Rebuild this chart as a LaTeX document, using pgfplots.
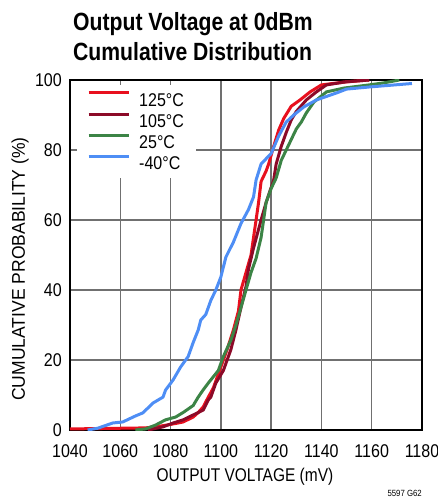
\documentclass[border=0pt]{standalone}
\usepackage{pgfplots}
\pgfplotsset{compat=1.18}
\usepackage{fontspec}
\setmainfont{Liberation Sans}[FakeStretch=0.87]
\newfontfamily\xlabfont{Liberation Sans}[FakeStretch=0.84]
\newfontfamily\ylabfont{Liberation Sans}[FakeStretch=0.95]
\newfontfamily\titlefont{Liberation Sans}[FakeStretch=0.85]
\definecolor{c125}{HTML}{E8101E}
\definecolor{c105}{HTML}{8C0A28}
\definecolor{c25}{HTML}{3C8446}
\definecolor{cm40}{HTML}{4E8EF5}
\definecolor{gridc}{HTML}{707070}
\begin{document}
\begin{tikzpicture}
\useasboundingbox (-70bp,-74bp) rectangle (368bp,430bp);
\begin{axis}[
  at={(0,0)}, anchor=south west,
  scale only axis, width=352bp, height=350bp,
  xmin=1040, xmax=1180, ymin=0, ymax=100,
  xtick={1040,1060,...,1180}, ytick={0,20,...,100},
  grid=major, major grid style={gridc, line width=1.3bp},
  axis line style={black, line width=2bp},
  major tick length=0pt, tick style={draw=none},
  /pgf/number format/assume math mode=true,
  /pgf/number format/1000 sep={},
  ticklabel style={font=\fontsize{18.5}{18.5}\selectfont},
  xticklabel style={anchor=base, yshift=-27bp},
  yticklabel style={anchor=east, inner sep=0pt, xshift=-8bp},
  xlabel={OUTPUT VOLTAGE (mV)},
  ylabel={CUMULATIVE PROBABILITY (\%)},
  xlabel style={font=\xlabfont\fontsize{18.5}{18.5}\selectfont, at={(axis description cs:0.497,-0.146)}, anchor=base},
  ylabel style={font=\ylabfont\fontsize{18.5}{18.5}\selectfont, at={(axis description cs:-0.128,0.46)}, anchor=base, rotate=0},
  legend style={at={(axis description cs:0.02,0.986)}, anchor=north west, draw=none, fill=white,
    inner xsep=10bp, inner ysep=5.7bp, font=\fontsize{18.5}{18.5}\selectfont,
    nodes={inner sep=2bp, text height=13.3bp, text depth=0pt}, row sep=4bp, column sep=7bp},
  legend cell align=left,
  legend image code/.code={\draw[#1, line width=3bp] (0bp,6.5bp) -- (40bp,6.5bp);},
  every axis plot/.append style={line width=3bp, line join=round},
]
\addplot[c125] coordinates {
(1040,0.3) (1050,0.4) (1060,0.5) (1070,0.6) (1075,1) (1080,1.6) (1083,2) (1085,2.3) (1089,3.7) (1091,5) (1093,6.6) (1095,9.4) (1097,12) (1098,14) (1100,18) (1102.5,23) (1105,28.6) (1107,34) (1108,40) (1110,45) (1112,50) (1113,55) (1114,60) (1115,65) (1116,71) (1118,74) (1119,76) (1121,81) (1123,85.7) (1125,89) (1128,92.5) (1131.5,94.3) (1135.5,96.6) (1140,98.6) (1149,99.4) (1159,100)};
\addlegendentry{125°C}
\addplot[c105] coordinates {
(1071,0) (1077,0.9) (1081,2) (1085,2.9) (1089,4.3) (1093,5.7) (1095,8.6) (1096,9.4) (1098,13.4) (1101,17) (1104,23) (1106,28.6) (1108,35) (1110,41) (1111,46) (1113,52) (1116,60) (1118,65) (1121,71.4) (1122,76) (1124,81) (1126,85) (1128,88.6) (1130,91) (1134,94.3) (1138,96.6) (1142,98.6) (1150,99.5) (1159,100)};
\addlegendentry{105°C}
\addplot[c25] coordinates {
(1066,0) (1070,0.3) (1074,1.4) (1078,2.9) (1082,3.7) (1085,5) (1089,7) (1091,9.4) (1093,11.5) (1095,13.4) (1099,17) (1101,21) (1104,25.7) (1106,30) (1108,35) (1110,40) (1112,45) (1114,49) (1116,55) (1117,60) (1118,65) (1120,69) (1122,72) (1124,77) (1126,80) (1128,83) (1130,86) (1132,88) (1134,90.6) (1137,93.7) (1142,96.6) (1149,97.7) (1159,98.6) (1165,99.2) (1171,100)};
\addlegendentry{25°C}
\addplot[cm40] coordinates {
(1047,0) (1051,0.5) (1057,2) (1061,2.3) (1066,4) (1069,4.9) (1071,6.3) (1073,7.7) (1077,9.4) (1078,11.4) (1081,14.3) (1084,18) (1087,21) (1089,25) (1091,28.6) (1092,31.4) (1094,33) (1096,37) (1098,40) (1100,43.7) (1102,49.4) (1105,53.7) (1108,59) (1111,63) (1113,66.6) (1114,71.4) (1116,76) (1120,79) (1123,84) (1126,88) (1129,90) (1133,92.3) (1138,94.3) (1146,96.3) (1150,97.4) (1159,98) (1176,99)};
\addlegendentry{-40°C}
\end{axis}
\node[anchor=base west, inner sep=0pt, font=\titlefont\bfseries\fontsize{25}{25}\selectfont] at (3bp,399bp) {Output Voltage at 0dBm};
\node[anchor=base west, inner sep=0pt, font=\titlefont\bfseries\fontsize{25}{25}\selectfont] at (3bp,369bp) {Cumulative Distribution};
\node[anchor=base east, inner sep=0pt, font=\fontsize{9}{9}\selectfont] at (352bp,-66bp) {5597 G62};
\end{tikzpicture}
\end{document}
